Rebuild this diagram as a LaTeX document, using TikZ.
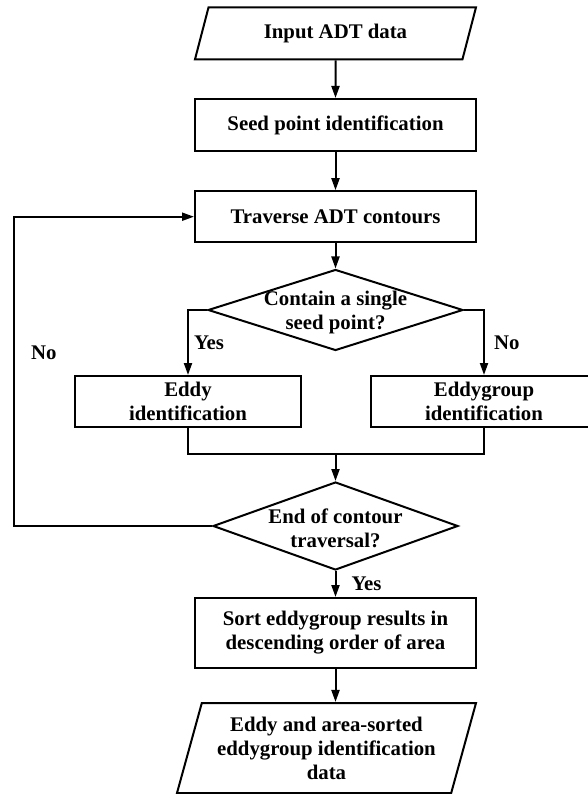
\documentclass[tikz,border=0pt]{standalone}
\usepackage{fontspec}
\setmainfont{Liberation Serif}
\usetikzlibrary{shapes.geometric,arrows.meta}

\begin{document}
\begin{tikzpicture}[x=1pt,y=-1pt,line width=2pt,
  every node/.style={font=\fontsize{20.8}{24}\selectfont\bfseries},
  procbox/.style={draw,rectangle,align=center,inner sep=0pt},
  iobox/.style={draw,trapezium,trapezium stretches body,align=center,inner sep=1pt},
  decbox/.style={draw,diamond,inner sep=0pt},
  lbl/.style={inner sep=3pt},
  arr/.style={-{Triangle[length=12pt,width=8pt]}}]
\path[use as bounding box,fill=white] (0,0) rectangle (587,794);

% main column
\node[iobox,trapezium left angle=57,trapezium right angle=123,minimum width=281pt,minimum height=52pt] (input) at (335.5,33.3) {Input ADT data};
\node[procbox,minimum width=281pt,minimum height=52pt] (seed) at (335.5,125) {Seed point identification};
\node[procbox,minimum width=281pt,minimum height=51pt] (trav) at (335.5,216.7) {Traverse ADT contours};
\node[decbox,minimum width=255pt,minimum height=81pt,label={[align=center,yshift=-2pt]center:Contain a single\\seed point?}] (single) at (335.5,310) {};
\node[procbox,minimum width=226pt,minimum height=51pt] (eddy) at (188,401.5) {Eddy\\identification};
\node[procbox,minimum width=226pt,minimum height=51pt] (group) at (484,401.5) {Eddygroup\\identification};
\coordinate (join) at (335.5,454);
\node[decbox,minimum width=245pt,minimum height=88pt,label={[align=center,yshift=-2pt]center:End of contour\\traversal?}] (end) at (335.5,526) {};
\node[procbox,minimum width=281pt,minimum height=70pt] (sort) at (335.5,633) {Sort eddygroup results in\\descending order of area};
\node[iobox,trapezium left angle=69,trapezium right angle=111,minimum width=299pt,minimum height=90pt] (output) at (326.5,748) {Eddy and area-sorted\\eddygroup identification\\data};
\coordinate (back) at (14,216.7);

% connectors
\draw[arr] (input) -- (seed);
\draw[arr] (seed) -- (trav);
\draw[arr] (trav) -- (single);
\draw[arr] (single.west) -| node[lbl,pos=0.75,right=2pt]{Yes} (eddy.north);
\draw[arr] (single.east) -| node[lbl,pos=0.75,right=6pt]{No} (group.north);
\draw (eddy.south) |- (join) -| (group.south);
\draw[arr] (join) -- (end.north);
\draw[arr] (end.west) -| node[lbl,pos=0.78,right=13pt]{No} (back) -- (trav.west);
\draw[arr] (end.south) -- node[lbl,right=12pt]{Yes} (sort.north);
\draw[arr] (sort.south) -- (sort.south |- output.north);
\end{tikzpicture}
\end{document}
